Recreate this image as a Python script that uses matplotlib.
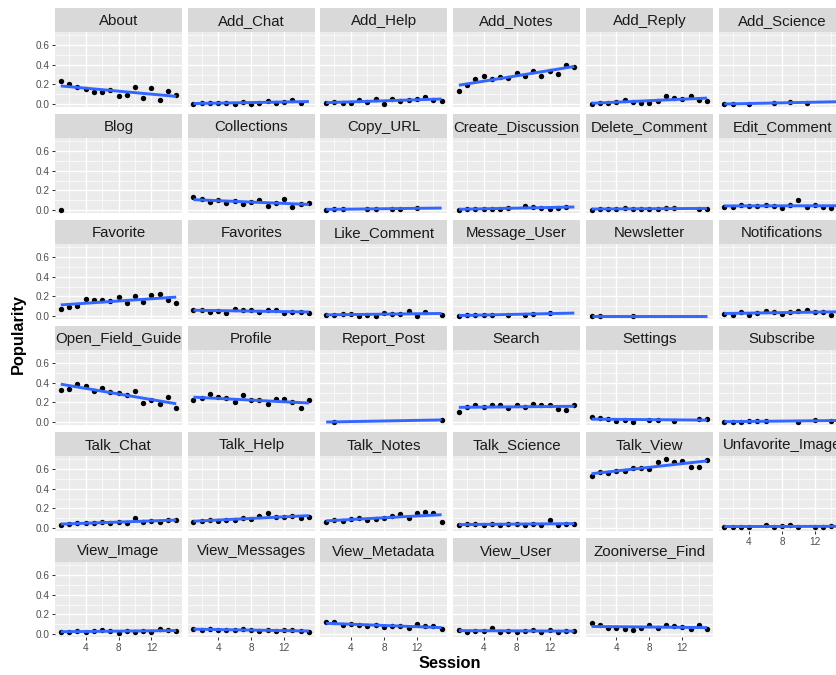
import numpy as np
import matplotlib
matplotlib.use("Agg")
import matplotlib.pyplot as plt

plt.rcParams['font.family'] = ['Liberation Sans', 'DejaVu Sans']

# ---- data: popularity of each feature per session ----
SESSIONS = [1, 2, 3, 4, 5, 6, 7, 8, 9, 10, 11, 12, 13, 14, 15]

about = [0.23, 0.20, 0.17, 0.15, 0.12, 0.12, 0.14, 0.08, 0.09, 0.17, 0.06, 0.16, 0.04, 0.13, 0.09]
add_chat_s = [1, 2, 3, 4, 5, 6, 7, 8, 9, 10, 11, 12, 13, 14]
add_chat = [0.00, 0.01, 0.01, 0.01, 0.01, 0.00, 0.02, 0.00, 0.01, 0.03, 0.01, 0.02, 0.04, 0.01]
add_help = [0.01, 0.02, 0.01, 0.01, 0.04, 0.02, 0.05, 0.00, 0.05, 0.03, 0.04, 0.05, 0.07, 0.04, 0.03]
add_notes = [0.13, 0.19, 0.25, 0.28, 0.25, 0.27, 0.26, 0.32, 0.29, 0.34, 0.29, 0.34, 0.31, 0.40, 0.38]
add_reply = [0.00, 0.01, 0.01, 0.02, 0.04, 0.02, 0.01, 0.01, 0.03, 0.08, 0.06, 0.05, 0.08, 0.04, 0.03]
add_science_s = [1, 2, 4, 7, 9, 11]
add_science = [0.00, 0.00, 0.00, 0.01, 0.02, 0.01]

blog_s = [1]
blog = [0.00]
collections = [0.13, 0.11, 0.08, 0.10, 0.07, 0.09, 0.06, 0.08, 0.10, 0.04, 0.07, 0.11, 0.03, 0.06, 0.07]
copy_url_s = [1, 2, 3, 6, 7, 9, 10, 12]
copy_url = [0.00, 0.01, 0.01, 0.01, 0.01, 0.01, 0.01, 0.02]
create_discussion_s = [1, 2, 3, 4, 5, 6, 7, 9, 10, 11, 12, 13, 14]
create_discussion = [0.00, 0.01, 0.01, 0.01, 0.01, 0.01, 0.02, 0.04, 0.03, 0.02, 0.01, 0.02, 0.03]
delete_comment_s = [1, 2, 3, 4, 5, 6, 7, 8, 9, 10, 11, 14, 15]
delete_comment = [0.00, 0.01, 0.01, 0.01, 0.02, 0.01, 0.01, 0.01, 0.01, 0.02, 0.02, 0.01, 0.01]
edit_comment = [0.03, 0.03, 0.05, 0.04, 0.04, 0.05, 0.04, 0.02, 0.05, 0.10, 0.03, 0.05, 0.03, 0.02, 0.04]

favorite = [0.07, 0.09, 0.10, 0.17, 0.16, 0.16, 0.15, 0.19, 0.13, 0.20, 0.14, 0.21, 0.22, 0.16, 0.13]
favorites = [0.06, 0.06, 0.04, 0.05, 0.03, 0.07, 0.06, 0.06, 0.04, 0.06, 0.06, 0.03, 0.04, 0.04, 0.03]
like_comment_s = [1, 2, 3, 4, 5, 6, 7, 8, 9, 10, 11, 12, 13, 15]
like_comment = [0.01, 0.01, 0.02, 0.02, 0.00, 0.01, 0.00, 0.03, 0.02, 0.02, 0.05, 0.00, 0.04, 0.01]
message_user_s = [1, 2, 3, 4, 5, 7, 9, 10, 12]
message_user = [0.00, 0.01, 0.01, 0.01, 0.01, 0.01, 0.01, 0.02, 0.03]
newsletter_s = [1, 2, 6]
newsletter = [0.00, 0.00, 0.00]
notifications = [0.02, 0.01, 0.04, 0.01, 0.03, 0.05, 0.04, 0.02, 0.04, 0.05, 0.06, 0.04, 0.04, 0.01, 0.04]

open_field_guide = [0.33, 0.34, 0.39, 0.37, 0.32, 0.35, 0.31, 0.30, 0.27, 0.32, 0.19, 0.22, 0.18, 0.25, 0.14]
profile = [0.22, 0.24, 0.28, 0.25, 0.24, 0.20, 0.27, 0.22, 0.22, 0.18, 0.23, 0.23, 0.20, 0.14, 0.22]
report_post_s = [2, 15]
report_post = [0.00, 0.02]
search = [0.10, 0.15, 0.17, 0.15, 0.17, 0.17, 0.14, 0.17, 0.15, 0.18, 0.17, 0.17, 0.13, 0.12, 0.17]
settings_s = [1, 2, 3, 4, 5, 6, 8, 9, 11, 14, 15]
settings = [0.05, 0.04, 0.03, 0.01, 0.02, 0.00, 0.02, 0.02, 0.01, 0.03, 0.03]
subscribe_s = [1, 2, 3, 4, 5, 6, 10, 12, 14]
subscribe = [0.00, 0.00, 0.00, 0.01, 0.01, 0.01, 0.00, 0.02, 0.01]

talk_chat = [0.03, 0.04, 0.05, 0.05, 0.05, 0.06, 0.05, 0.06, 0.05, 0.10, 0.06, 0.07, 0.06, 0.08, 0.08]
talk_help = [0.06, 0.07, 0.08, 0.07, 0.08, 0.08, 0.10, 0.09, 0.12, 0.15, 0.11, 0.11, 0.12, 0.10, 0.11]
talk_notes = [0.06, 0.08, 0.07, 0.09, 0.10, 0.08, 0.09, 0.10, 0.12, 0.14, 0.10, 0.15, 0.16, 0.15, 0.06]
talk_science = [0.03, 0.04, 0.04, 0.03, 0.04, 0.03, 0.04, 0.04, 0.03, 0.04, 0.03, 0.08, 0.03, 0.04, 0.04]
talk_view = [0.53, 0.57, 0.56, 0.58, 0.58, 0.61, 0.61, 0.60, 0.67, 0.70, 0.67, 0.68, 0.62, 0.62, 0.69]
unfavorite_image_s = [1, 2, 3, 4, 6, 7, 8, 9, 10, 12, 13, 14, 15]
unfavorite_image = [0.01, 0.01, 0.01, 0.01, 0.03, 0.01, 0.02, 0.03, 0.01, 0.01, 0.01, 0.02, 0.01]

view_image = [0.02, 0.02, 0.03, 0.02, 0.03, 0.04, 0.03, 0.01, 0.03, 0.02, 0.03, 0.02, 0.05, 0.04, 0.03]
view_messages = [0.05, 0.04, 0.05, 0.04, 0.04, 0.04, 0.05, 0.04, 0.03, 0.04, 0.03, 0.04, 0.04, 0.03, 0.02]
view_metadata = [0.12, 0.12, 0.09, 0.10, 0.09, 0.08, 0.09, 0.07, 0.08, 0.08, 0.06, 0.10, 0.08, 0.08, 0.05]
view_user = [0.04, 0.02, 0.03, 0.03, 0.06, 0.02, 0.03, 0.02, 0.03, 0.04, 0.02, 0.04, 0.02, 0.03, 0.03]
zooniverse_find = [0.11, 0.09, 0.06, 0.06, 0.05, 0.04, 0.06, 0.09, 0.06, 0.09, 0.08, 0.07, 0.05, 0.09, 0.05]

X_BREAKS = [4, 8, 12]
Y_BREAKS = [0.0, 0.2, 0.4, 0.6]
Y_LABELS = ["0.0", "0.2", "0.4", "0.6"]

facets = [
    ("About", SESSIONS, about),
    ("Add_Chat", add_chat_s, add_chat),
    ("Add_Help", SESSIONS, add_help),
    ("Add_Notes", SESSIONS, add_notes),
    ("Add_Reply", SESSIONS, add_reply),
    ("Add_Science", add_science_s, add_science),
    ("Blog", blog_s, blog),
    ("Collections", SESSIONS, collections),
    ("Copy_URL", copy_url_s, copy_url),
    ("Create_Discussion", create_discussion_s, create_discussion),
    ("Delete_Comment", delete_comment_s, delete_comment),
    ("Edit_Comment", SESSIONS, edit_comment),
    ("Favorite", SESSIONS, favorite),
    ("Favorites", SESSIONS, favorites),
    ("Like_Comment", like_comment_s, like_comment),
    ("Message_User", message_user_s, message_user),
    ("Newsletter", newsletter_s, newsletter),
    ("Notifications", SESSIONS, notifications),
    ("Open_Field_Guide", SESSIONS, open_field_guide),
    ("Profile", SESSIONS, profile),
    ("Report_Post", report_post_s, report_post),
    ("Search", SESSIONS, search),
    ("Settings", settings_s, settings),
    ("Subscribe", subscribe_s, subscribe),
    ("Talk_Chat", SESSIONS, talk_chat),
    ("Talk_Help", SESSIONS, talk_help),
    ("Talk_Notes", SESSIONS, talk_notes),
    ("Talk_Science", SESSIONS, talk_science),
    ("Talk_View", SESSIONS, talk_view),
    ("Unfavorite_Image", unfavorite_image_s, unfavorite_image),
    ("View_Image", SESSIONS, view_image),
    ("View_Messages", SESSIONS, view_messages),
    ("View_Metadata", SESSIONS, view_metadata),
    ("View_User", SESSIONS, view_user),
    ("Zooniverse_Find", SESSIONS, zooniverse_find),
]

# ---- figure layout (pixels) ----
W, H = 836, 675
NCOL = 6
COL0, COL_STEP, PANEL_W = 55.0, 132.7, 127.0
ROW0, ROW_STEP = 8.3, 106.0
STRIP_H, PANEL_H = 23.7, 75.3

fig = plt.figure(figsize=(W / 100, H / 100), dpi=100)
fig.patch.set_facecolor("white")

all_x = [x for _, xs, _ in facets for x in xs]
all_y = [y for _, _, ys in facets for y in ys]
x_lo, x_hi = min(all_x), max(all_x)
y_lo, y_hi = min(all_y), max(all_y)
xpad = (x_hi - x_lo) * 0.05
ypad = (y_hi - y_lo) * 0.05
xlim = (x_lo - xpad, x_hi + xpad)
ylim = (y_lo - ypad, y_hi + ypad)

n = len(facets)
nrow = (n + NCOL - 1) // NCOL


def frac_box(left, top, width, height):
    return [left / W, 1 - (top + height) / H, width / W, height / H]


for i, (name, xs, ys) in enumerate(facets):
    r, c = divmod(i, NCOL)
    left = COL0 + c * COL_STEP
    strip_top = ROW0 + r * ROW_STEP
    panel_top = strip_top + STRIP_H

    # strip with facet title
    sax = fig.add_axes(frac_box(left, strip_top, PANEL_W, STRIP_H))
    sax.set_facecolor("#D9D9D9")
    sax.set_xticks([])
    sax.set_yticks([])
    for sp in sax.spines.values():
        sp.set_visible(False)
    sax.text(0.5, 0.45, name, ha="center", va="center", fontsize=10.8,
             color="#1A1A1A", transform=sax.transAxes)

    ax = fig.add_axes(frac_box(left, panel_top, PANEL_W, PANEL_H))
    ax.set_facecolor("#EBEBEB")
    for sp in ax.spines.values():
        sp.set_visible(False)
    ax.set_xlim(*xlim)
    ax.set_ylim(*ylim)
    ax.set_xticks(X_BREAKS)
    ax.set_xticks([2, 6, 10, 14], minor=True)
    ax.set_yticks(Y_BREAKS)
    ax.set_yticks([0.1, 0.3, 0.5, 0.7], minor=True)
    ax.set_xticklabels([str(b) for b in X_BREAKS])
    ax.set_yticklabels(Y_LABELS)
    ax.grid(which="major", color="white", linewidth=1.0)
    ax.grid(which="minor", color="white", linewidth=0.5)
    ax.set_axisbelow(True)

    ax.tick_params(which="minor", length=0)
    ax.tick_params(which="major", length=3 * 0.72, width=0.75, color="#333333",
                   labelcolor="#4D4D4D", labelsize=7.2, pad=1.8)

    bottom_of_col = (r == nrow - 1) or (i + NCOL >= n)
    if not bottom_of_col:
        ax.tick_params(axis="x", which="major", length=0, labelbottom=False)
    if c != 0:
        ax.tick_params(axis="y", which="major", length=0, labelleft=False)

    xa = np.asarray(xs, dtype=float)
    ya = np.asarray(ys, dtype=float)
    ax.scatter(xa, ya, s=15, color="black", linewidths=0, zorder=3)
    if len(xa) >= 2:
        slope, icpt = np.polyfit(xa, ya, 1)
        lx = np.array([x_lo, x_hi], dtype=float)
        ax.plot(lx, slope * lx + icpt, color="#3366FF", linewidth=2.1,
                zorder=4, solid_capstyle="butt")

fig.text(18 / W, 1 - 334 / H, "Popularity", rotation=90, ha="center",
         va="center", fontsize=11.8, fontweight="bold", color="black")
fig.text(450 / W, 1 - 664 / H, "Session", ha="center", va="center",
         fontsize=11.8, fontweight="bold", color="black")

fig.savefig("out.png", dpi=100)
